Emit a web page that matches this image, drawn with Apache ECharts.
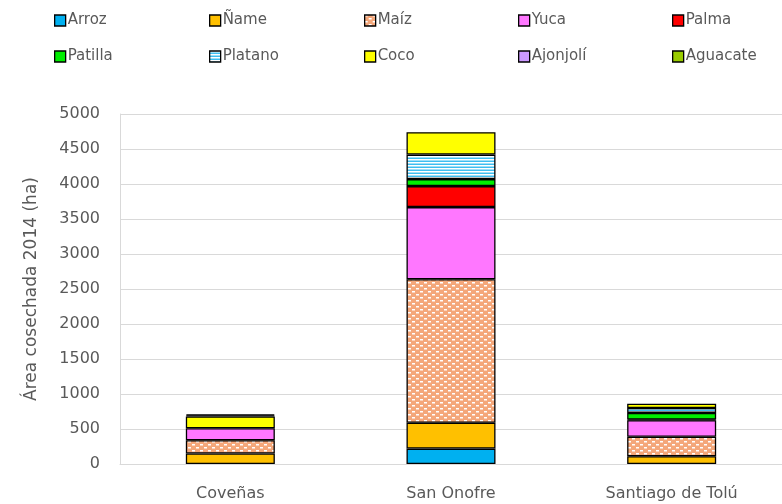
<!DOCTYPE html>
<html><head><meta charset="utf-8">
<script src="https://cdn.jsdelivr.net/npm/echarts@6/dist/echarts.min.js"></script>
<style>html,body{margin:0;padding:0;background:#fff}#c{width:782px;height:504px}</style>
</head><body><div id="c"></div>
<script>
const categories = ['Coveñas', 'San Onofre', 'Santiago de Tolú'];
const seriesNames = ['Arroz', 'Ñame', 'Maíz', 'Yuca', 'Palma', 'Patilla', 'Platano', 'Coco', 'Ajonjolí', 'Aguacate'];
const arroz    = [0, 220, 0];
const name_    = [150, 370, 110];
const maiz     = [190, 2050, 280];
const yuca     = [170, 1030, 235];
const palma    = [0, 300, 10];
const patilla  = [0, 100, 95];
const platano  = [0, 350, 70];
const coco     = [170, 320, 60];
const ajonjoli = [15, 0, 0];
const aguacate = [15, 0, 0];
const yTicks = [0, 500, 1000, 1500, 2000, 2500, 3000, 3500, 4000, 4500, 5000];

const values = [arroz, name_, maiz, yuca, palma, patilla, platano, coco, ajonjoli, aguacate];

function makePattern(kind) {
  const cv = document.createElement('canvas');
  if (kind === 'maiz') {
    cv.width = 8; cv.height = 6;
    const g = cv.getContext('2d');
    g.fillStyle = '#F4A77A'; g.fillRect(0, 0, 8, 6);
    g.fillStyle = '#FFFFFF';
    g.fillRect(0, 0, 3, 1.5);
    g.fillRect(4, 3, 3, 1.5);
  } else {
    cv.width = 4; cv.height = 3;
    const g = cv.getContext('2d');
    g.fillStyle = '#3EBEF0'; g.fillRect(0, 0, 4, 3);
    g.fillStyle = '#FFFFFF'; g.fillRect(0, 0, 4, 1.5);
  }
  return { image: cv, repeat: 'repeat' };
}

const colors = ['#00B0F0', '#FFC000', makePattern('maiz'), '#FF77FF', '#FF0000', '#00EE00', makePattern('platano'), '#FFFF00', '#CC99FF', '#99CC00'];

const series = seriesNames.map((n, i) => ({
  name: n,
  type: 'bar',
  stack: 'total',
  barWidth: 89,
  data: values[i].map(v => v === 0 ? '-' : v),
  itemStyle: { color: colors[i], borderColor: '#000', borderWidth: 1.3 }
}));

const FONT = 'DejaVu Sans';
const legendLefts = [54, 209, 364, 518, 672];
const legends = seriesNames.map((n, i) => ({
  data: [n],
  left: legendLefts[i % 5],
  top: i < 5 ? 13 : 49,
  padding: 0,
  icon: 'rect', itemWidth: 11, itemHeight: 11,
  textStyle: { fontFamily: FONT, fontSize: 15, color: '#595959', padding: [0, 0, 0, -3] },
  itemStyle: { borderColor: '#000', borderWidth: 1.3 }
}));

const chart = echarts.init(document.getElementById('c'));
chart.setOption({
  animation: false,
  legend: legends,
  grid: { left: 120, right: -4, top: 114, bottom: 40 },
  xAxis: {
    type: 'category', data: categories,
    axisLine: { lineStyle: { color: '#D9D9D9' } },
    axisTick: { show: false },
    axisLabel: { fontFamily: FONT, fontSize: 16, color: '#595959', margin: 22 }
  },
  yAxis: {
    type: 'value', min: yTicks[0], max: yTicks[yTicks.length - 1], interval: 500,
    name: 'Área cosechada 2014 (ha)', nameLocation: 'middle', nameGap: 80,
    nameTextStyle: { fontFamily: FONT, fontSize: 17, color: '#595959' },
    axisLine: { show: true, lineStyle: { color: '#D9D9D9' } },
    axisTick: { show: false },
    splitLine: { lineStyle: { color: '#D9D9D9' } },
    axisLabel: { fontFamily: FONT, fontSize: 16, color: '#595959', margin: 20, formatter: v => String(v) }
  },
  series: series
});
</script></body></html>
